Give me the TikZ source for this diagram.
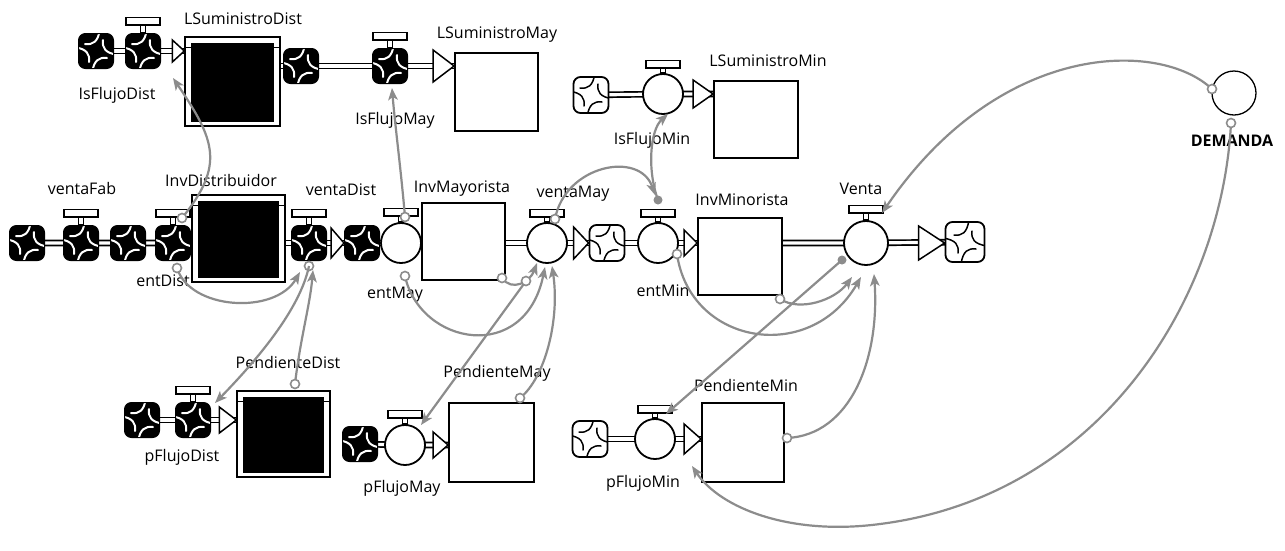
\documentclass[tikz,border=0pt]{standalone}
\usepackage{fontspec}
\setmainfont{Open Sans}
\usetikzlibrary{arrows.meta,backgrounds}

\definecolor{linkgray}{RGB}{140,140,140}

% point relative to the centre of a cloud icon (canvas pt, y upwards)
\newcommand{\cp}[2]{([shift={(#1pt,#2pt)}]path picture bounding box.center)}

\tikzset{
  lbl/.style={font=\fontsize{16}{19}\selectfont, inner sep=0pt},
  pipe/.style={draw=black, line width=1.7pt, double=white, double distance=3.2pt},
  conn/.style={draw=linkgray, line width=2.2pt, -{Stealth[length=12pt,width=9.5pt,inset=3pt]}},
  ring/.style={circle, draw=linkgray, line width=1.6pt, fill=white, minimum size=9pt, inner sep=0pt},
  gdot/.style={circle, fill=linkgray, minimum size=9pt, inner sep=0pt},
  stock/.style={rectangle, draw=black, line width=1.8pt, fill=white, inner sep=0pt},
  convstock/.style={rectangle, draw=black, line width=1.3pt, fill=white, inner sep=0pt,
    path picture={
      \fill[black] ([shift={(6pt,4pt)}]path picture bounding box.south west) rectangle ([shift={(-6pt,-6pt)}]path picture bounding box.north east);
      \draw[line width=1pt] ([yshift=-10pt]path picture bounding box.north west) -- ([yshift=-10pt]path picture bounding box.north east);
    }},
  valve/.style={circle, draw=black, line width=1.8pt, fill=white, minimum size=40pt, inner sep=0pt},
  % pinwheel of four hooked strokes inside a cloud
  swirl/.style 2 args={path picture={
      \draw[#1, line width=#2, line cap=round]
        \cp{4}{22} .. controls \cp{2}{9} and \cp{-3}{6} .. \cp{-11}{7}
        \cp{-22}{4} .. controls \cp{-9}{2} and \cp{-6}{-3} .. \cp{-7}{-11}
        \cp{-4}{-22} .. controls \cp{-2}{-9} and \cp{3}{-6} .. \cp{11}{-7}
        \cp{22}{-4} .. controls \cp{9}{-2} and \cp{6}{3} .. \cp{7}{11};
    }},
  bcloud/.style={rectangle, rounded corners=7pt, fill=black, draw=black, line width=1pt,
    minimum width=35pt, minimum height=35pt, inner sep=0pt, swirl={white}{2pt}},
  wcloud/.style={rectangle, rounded corners=7pt, fill=white, draw=black, line width=1.8pt,
    minimum width=35pt, minimum height=36pt, inner sep=0pt, swirl={black}{1.5pt}},
}

% valve handle: stem and bar above a valve node
\newcommand{\valvehandle}[2]{%
  \draw[fill=white, line width=1.5pt] ([xshift=-2.5pt]#1.north) rectangle ([xshift=2.5pt,yshift=#2]#1.north);
  \draw[fill=white, line width=1.5pt] ([xshift=-17pt,yshift=#2]#1.north) rectangle ([xshift=17pt,yshift=#2+7.5pt]#1.north);}

% open flow arrowhead: tip point, length, half height
\newcommand{\flowhead}[3]{%
  \draw[fill=white, line width=1.5pt, line join=miter] (#1) -- ++(-#2,-#3) -- ++(0,2*#3) -- cycle;}

\begin{document}
\begin{tikzpicture}[x=1pt,y=-1pt]
\useasboundingbox (0,0) rectangle (1285,550);
\begin{scope}[on background layer]
  \fill[white] (0,0) rectangle (1285,550);
\end{scope}

% ---------- supply lines ----------
\node[bcloud] (cA) at (96,51) {};
\node[bcloud] (IsFlujoDist) at (143,51) {};
\node[convstock, minimum width=95pt, minimum height=89pt] (LSuministroDist) at (232.5,81.5) {};

\node[bcloud] (cB) at (301,66) {};
\node[bcloud] (IsFlujoMay) at (390,66) {};
\node[stock, minimum width=83pt, minimum height=78pt] (LSuministroMay) at (496.5,92) {};

\node[wcloud] (cC) at (591,95) {};
\node[valve] (IsFlujoMin) at (663,94) {};
\node[stock, minimum width=84pt, minimum height=77pt] (LSuministroMin) at (756,119.5) {};

% ---------- main chain ----------
\node[bcloud] (c1) at (27,243) {};
\node[bcloud] (ventaFab) at (81,243) {};
\node[bcloud] (c2) at (128,243) {};
\node[bcloud] (entDist) at (173,243) {};
\node[convstock, minimum width=93pt, minimum height=87pt] (InvDistribuidor) at (238.5,238.5) {};
\node[bcloud] (ventaDist) at (309,243) {};
\node[bcloud] (c3) at (362,243) {};
\node[valve] (entMay) at (401,243) {};
\node[stock, minimum width=83pt, minimum height=77pt] (InvMayorista) at (463.5,241.5) {};
\node[valve] (ventaMay) at (547,243) {};
\node[wcloud] (c4) at (607,243) {};
\node[valve] (entMin) at (658,243) {};
\node[stock, minimum width=84pt, minimum height=77pt] (InvMinorista) at (740,256.5) {};
\node[valve, minimum size=44pt] (Venta) at (866,243) {};
\node[wcloud, minimum width=39pt, minimum height=40pt] (c5) at (965,242) {};

\node[circle, draw=black, line width=1.3pt, fill=white, minimum size=44pt, inner sep=0pt] (DEMANDA) at (1234,93) {};

% ---------- pending orders ----------
\node[bcloud] (c6) at (142,420) {};
\node[bcloud] (pFlujoDist) at (193,420) {};
\node[convstock, minimum width=93pt, minimum height=86pt] (PendienteDist) at (283.5,434) {};
\node[bcloud] (c7) at (360,444) {};
\node[valve] (pFlujoMay) at (405,445) {};
\node[stock, minimum width=85pt, minimum height=79pt] (PendienteMay) at (491.5,442.5) {};
\node[wcloud] (c8) at (590,439) {};
\node[valve] (pFlujoMin) at (655,439) {};
\node[stock, minimum width=82pt, minimum height=79pt] (PendienteMin) at (743,442.5) {};

% ---------- pipes ----------
\begin{scope}[on background layer]
  \draw[pipe] (cA.center) -- (IsFlujoDist.center) -- (IsFlujoDist.center -| LSuministroDist.west);
  \draw[pipe] (cB.center -| LSuministroDist.center) -- (IsFlujoMay.center) -- (IsFlujoMay.center -| LSuministroMay.west);
  \draw[pipe] (cC.center) -- (IsFlujoMin.center) -- (IsFlujoMin.center -| LSuministroMin.west);
  \draw[pipe] (c1.center) -- (ventaFab.center) -- (c2.center) -- (entDist.center) -- (InvDistribuidor.center);
  \draw[pipe] (ventaDist.center -| InvDistribuidor.center) -- (ventaDist.center) -- (c3.center) -- (entMay.center) -- (entMay.center -| InvMayorista.center);
  \draw[pipe] (ventaMay.center -| InvMayorista.center) -- (ventaMay.center) -- (c4.center) -- (entMin.center) -- (entMin.center -| InvMinorista.west);
  \draw[pipe] (Venta.center -| InvMinorista.center) -- (Venta.center) -- (c5.center);
  \draw[pipe] (c6.center) -- (pFlujoDist.center) -- (pFlujoDist.center -| PendienteDist.west);
  \draw[pipe] (c7.center) -- (pFlujoMay.center) -- (pFlujoMay.center -| PendienteMay.west);
  \draw[pipe] (c8.center) -- (pFlujoMin.center) -- (pFlujoMin.center -| PendienteMin.west);
\end{scope}

% ---------- flow arrowheads ----------
\flowhead{IsFlujoDist.center -| LSuministroDist.west}{12}{11}
\flowhead{IsFlujoMay.center -| LSuministroMay.west}{21}{16}
\flowhead{IsFlujoMin.center -| LSuministroMin.west}{20}{14}
\flowhead{ventaDist.center -| c3.west}{13}{15}
\flowhead{ventaMay.center -| c4.west}{15}{16}
\flowhead{entMin.center -| InvMinorista.west}{13}{13}
\flowhead{Venta.center -| c5.west}{26}{17}
\flowhead{pFlujoDist.center -| PendienteDist.west}{17}{13}
\flowhead{pFlujoMay.center -| PendienteMay.west}{15}{13}
\flowhead{pFlujoMin.center -| PendienteMin.west}{17}{15}

% ---------- valve handles ----------
\valvehandle{IsFlujoDist}{8pt}
\valvehandle{IsFlujoMay}{8pt}
\valvehandle{IsFlujoMin}{5pt}
\valvehandle{ventaFab}{8pt}
\valvehandle{entDist}{8pt}
\valvehandle{ventaDist}{8pt}
\valvehandle{entMay}{6pt}
\valvehandle{ventaMay}{5pt}
\valvehandle{entMin}{5pt}
\valvehandle{Venta}{7pt}
\valvehandle{pFlujoDist}{8pt}
\valvehandle{pFlujoMay}{6pt}
\valvehandle{pFlujoMin}{5pt}

% ---------- labels ----------
\node[lbl] (lLSuministroDist) at (243,19) {LSuministroDist};
\node[lbl] (lIsFlujoDist) at (117,95) {IsFlujoDist};
\node[lbl] (lLSuministroMay) at (497,35) {LSuministroMay};
\node[lbl] (lIsFlujoMay) at (395,120) {IsFlujoMay};
\node[lbl] (lLSuministroMin) at (768,61) {LSuministroMin};
\node[lbl] (lIsFlujoMin) at (652,140) {IsFlujoMin};
\node[lbl] (lventaFab) at (82,188) {ventaFab};
\node[lbl] (lInvDistribuidor) at (221,180) {InvDistribuidor};
\node[lbl] (lventaDist) at (341,190) {ventaDist};
\node[lbl] (lentDist) at (163,281) {entDist};
\node[lbl] (lInvMayorista) at (462,189) {InvMayorista};
\node[lbl] (lentMay) at (395,295) {entMay};
\node[lbl] (lventaMay) at (573,194) {ventaMay};
\node[lbl] (lentMin) at (663,291) {entMin};
\node[lbl] (lInvMinorista) at (742,200) {InvMinorista};
\node[lbl] (lVenta) at (861,189) {Venta};
\node[lbl, font=\fontsize{16}{19}\selectfont\bfseries] (lDEMANDA) at (1232,141) {DEMANDA};
\node[lbl] (lPendienteDist) at (288,362) {PendienteDist};
\node[lbl] (lpFlujoDist) at (182,457) {pFlujoDist};
\node[lbl] (lPendienteMay) at (497,373) {PendienteMay};
\node[lbl] (lpFlujoMay) at (402,488) {pFlujoMay};
\node[lbl] (lPendienteMin) at (746,385) {PendienteMin};
\node[lbl] (lpFlujoMin) at (643,483) {pFlujoMin};

% ---------- connector end points ----------
\coordinate (r1) at (182,218);  \coordinate (a1) at (173,78);
\coordinate (r2) at (177,268);  \coordinate (a2) at (300,272);
\coordinate (r3) at (295,384);  \coordinate (a3) at (313,270);
\coordinate (r4) at (309,266);  \coordinate (a4) at (215,403);
\coordinate (r5) at (405,217);  \coordinate (a5) at (392,88);
\coordinate (r6) at (405,276);  \coordinate (a6) at (545,267);
\coordinate (r7) at (502,278);  \coordinate (a7) at (537,263);
\coordinate (r8) at (526,281);  \coordinate (a8) at (421,425);
\coordinate (r9) at (520,398);  \coordinate (a9) at (552,266);
\coordinate (r10) at (555,219); \coordinate (a10) at (655,195);
\coordinate (d11) at (658,200); \coordinate (a11) at (668,114);
\coordinate (r12) at (677,254); \coordinate (a12) at (861,277);
\coordinate (r13) at (780,299); \coordinate (a13) at (852,277);
\coordinate (r14) at (787,438); \coordinate (a14) at (874,274);
\coordinate (d15) at (842,260); \coordinate (a15) at (666,414);
\coordinate (r16) at (1212,89); \coordinate (a16) at (882,213);
\coordinate (r17) at (1231,123); \coordinate (a17) at (692,466);

\node[ring] at (r4) {};

% ---------- connectors ----------
\draw[conn] (r1) .. controls (225,165) and (215,140) .. (a1);
\draw[conn] (r2) .. controls (190,310) and (275,315) .. (a2);
\draw[conn] (r3) .. controls (300,340) and (310,305) .. (a3);
\draw[conn] (r4) .. controls (300,310) and (255,362) .. (a4);
\draw[conn] (r5) .. controls (401,170) and (395,125) .. (a5);
\draw[conn] (r6) .. controls (420,345) and (525,365) .. (a6);
\draw[conn] (r7) .. controls (512,292) and (530,282) .. (a7);
\draw[conn] (r8) -- (a8);
\draw[conn] (r9) .. controls (545,378) and (560,320) .. (a9);
\draw[conn] (r10) .. controls (565,165) and (640,150) .. (a10);
\draw[conn] (d11) .. controls (647,170) and (650,130) .. (a11);
\draw[conn] (r12) .. controls (690,345) and (810,365) .. (a12);
\draw[conn] (r13) .. controls (800,312) and (835,300) .. (a13);
\draw[conn] (r14) .. controls (850,435) and (880,360) .. (a14);
\draw[conn] (d15) -- (a15);
\draw[conn] (r16) .. controls (1160,40) and (1000,40) .. (a16);
\draw[conn] (r17) .. controls (1222,300) and (1100,496) .. (880,524) .. controls (790,536) and (720,508) .. (a17);

% ---------- connector source markers ----------
\foreach \r in {r1,r2,r3,r5,r6,r7,r8,r9,r10,r12,r13,r14,r16,r17}{\node[ring] at (\r) {};}
\node[gdot] at (d11) {};
\node[gdot] at (d15) {};
\end{tikzpicture}
\end{document}
